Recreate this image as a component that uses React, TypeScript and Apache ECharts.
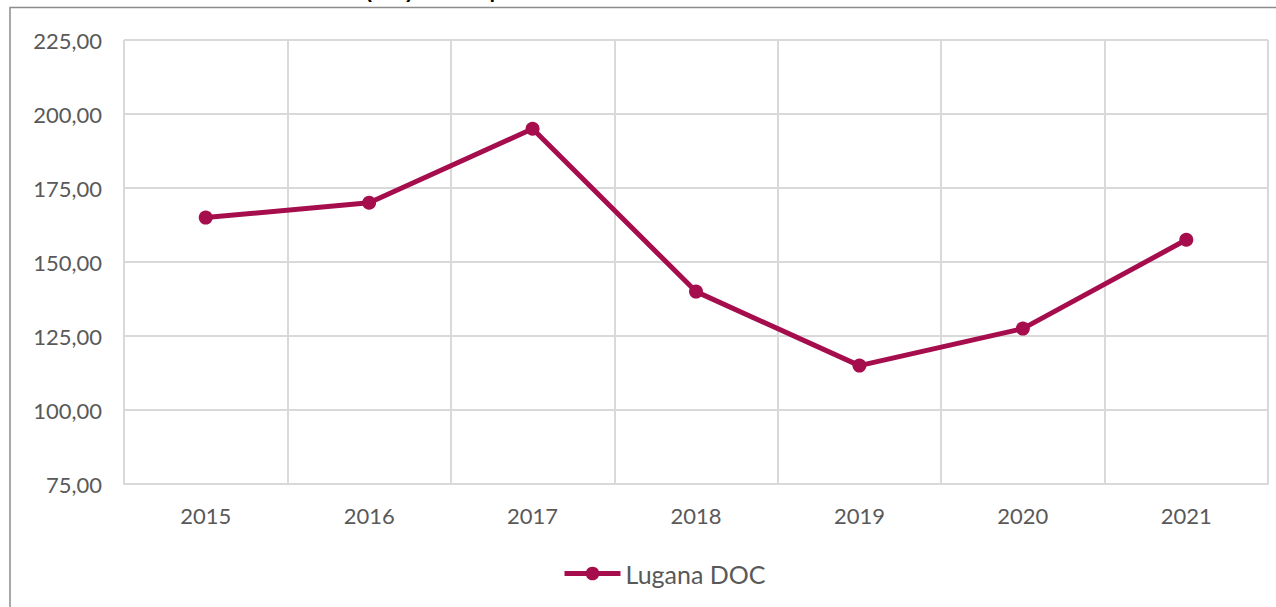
import React, { useEffect, useRef } from "react";
import * as echarts from "echarts";

const categories = ["2015", "2016", "2017", "2018", "2019", "2020", "2021"];
const luganaValues = [165, 170, 195, 140, 115, 127.5, 157.5];
const seriesName = "Lugana DOC";
const yMin = 75;
const yMax = 225;
const yStep = 25;

const LINE_COLOR = "#A50D4D";
const GRID_COLOR = "#D9D9D9";
const TEXT_COLOR = "#595959";
const FONT = "Lato, 'Noto Sans', sans-serif";

export default function App() {
  const ref = useRef<HTMLDivElement>(null);

  useEffect(() => {
    document.body.style.margin = "0";
    if (!ref.current) return;
    const chart = echarts.init(ref.current, undefined, { renderer: "svg" });
    chart.setOption({
      animation: false,
      backgroundColor: "#ffffff",
      textStyle: { fontFamily: FONT },
      graphic: [
        {
          type: "rect",
          shape: { x: 10, y: 7.5, width: 1300, height: 700 },
          style: { fill: "none", stroke: "#8C8C8C", lineWidth: 1.5 },
          silent: true,
        },
        {
          type: "text",
          x: 413,
          y: 1,
          style: {
            text: "Prezzo (€/hl)",
            fill: "#000000",
            font: "bold 20px 'Liberation Sans', Arial, sans-serif",
            align: "right",
            verticalAlign: "bottom",
          },
          silent: true,
        },
        {
          type: "text",
          x: 425,
          y: 1,
          style: {
            text: "medio per",
            fill: "#000000",
            font: "bold 20px 'Liberation Sans', Arial, sans-serif",
            align: "left",
            verticalAlign: "bottom",
          },
          silent: true,
        },
      ],
      grid: { left: 124, right: 8, top: 40, bottom: 123, containLabel: false },
      legend: {
        show: true,
        left: 562,
        top: 561,
        padding: 0,
        itemWidth: 56,
        itemHeight: 17,
        lineStyle: { width: 5, color: LINE_COLOR },
        itemStyle: { color: LINE_COLOR },
        textStyle: { color: TEXT_COLOR, fontSize: 25, fontFamily: FONT },
        data: [seriesName],
      },
      xAxis: {
        type: "category",
        data: categories,
        boundaryGap: true,
        axisLine: { show: true, lineStyle: { color: GRID_COLOR, width: 2 } },
        axisTick: { show: false },
        splitLine: { show: true, lineStyle: { color: GRID_COLOR, width: 2 } },
        axisLabel: { color: TEXT_COLOR, fontSize: 22, margin: 20, fontFamily: FONT },
      },
      yAxis: {
        type: "value",
        min: yMin,
        max: yMax,
        interval: yStep,
        axisLine: { show: false },
        axisTick: { show: false },
        splitLine: { show: true, lineStyle: { color: GRID_COLOR, width: 2 } },
        axisLabel: {
          color: TEXT_COLOR,
          fontSize: 22,
          margin: 22,
          fontFamily: FONT,
          formatter: (v: number) => v.toFixed(2).replace(".", ","),
        },
      },
      series: [
        {
          name: seriesName,
          type: "line",
          data: luganaValues,
          symbol: "circle",
          symbolSize: 14,
          lineStyle: { color: LINE_COLOR, width: 5 },
          itemStyle: { color: LINE_COLOR },
        },
      ],
    });
    return () => chart.dispose();
  }, []);

  return <div ref={ref} style={{ width: 1276, height: 607 }} />;
}
